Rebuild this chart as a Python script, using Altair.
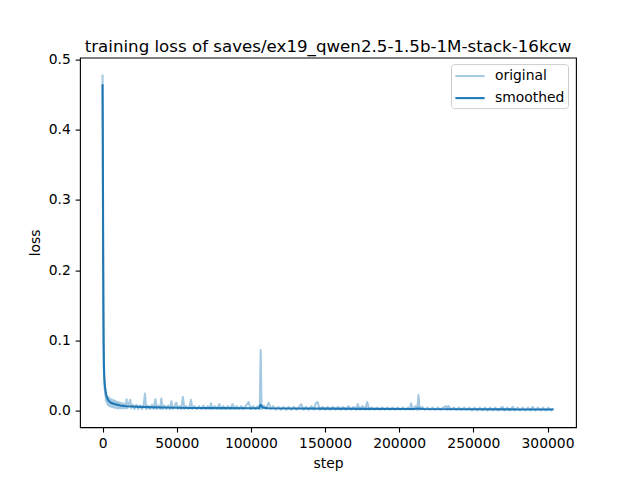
import altair as alt
import pandas as pd

TITLE = "training loss of saves/ex19_qwen2.5-1.5b-1M-stack-16kcw"

# raw per-step training loss (sampled), steps and values
orig_step = [
    0, 100, 250, 400, 550, 700, 850, 1000, 1200, 1400,
    1600, 1800, 2000, 2300, 2600, 2900, 3200, 3500, 3800, 4100,
    4400, 4700, 5000, 5400, 5800, 6200, 6600, 7000, 7400, 7800,
    8200, 8600, 9000, 9400, 9800, 10300, 10800, 11300, 11800, 12300,
    12800, 13300, 13800, 14300, 14800, 15300, 16200, 16700, 17300, 18700,
    19300, 20200, 21500, 22800, 24000, 25300, 26500, 27700, 28600, 29500,
    30800, 32000, 33300, 34500, 35600, 36600, 37800, 39000, 39600, 40500,
    41700, 43000, 44200, 45400, 46400, 47300, 48500, 49700, 50700, 51900,
    53000, 54200, 55200, 56500, 57700, 58800, 59600, 60600, 62000, 63500,
    65000, 66500, 68000, 69500, 71000, 72300, 73100, 74200, 75800, 77200,
    78700, 80000, 81500, 83000, 84500, 86000, 87700, 89000, 90500, 92000,
    93500, 95000, 96500, 98500, 99800, 101500, 103000, 104500, 106000, 106600,
    107200, 108700, 110200, 112000, 113500, 115000, 116800, 118500, 120200, 122000,
    123800, 125500, 127300, 129000, 130800, 132500, 133900, 135500, 137200, 139000,
    140800, 142500, 143500, 145000, 146500, 148300, 150000, 151800, 153500, 155300,
    157000, 158800, 160500, 162300, 164000, 165800, 167500, 169300, 171000, 172000,
    173500, 175200, 177000, 178400, 179800, 181500, 183300, 185000, 186800, 188500,
    190300, 192000, 193800, 195500, 197300, 199000, 200800, 202500, 204300, 206000,
    207200, 208000, 209300, 211000, 212200, 213000, 213800, 215500, 217300, 219000,
    220800, 222500, 224300, 226000, 227800, 229500, 231700, 232500, 233300, 235000,
    236800, 238500, 240300, 242000, 243800, 245500, 247300, 249000, 250800, 252500,
    254300, 256000, 257800, 259500, 261300, 263000, 264800, 266500, 268300, 269700,
    271000, 272800, 274500, 276500, 278000, 279800, 281500, 283300, 285000, 286800,
    288500, 290000, 291800, 293500, 295300, 297000, 298800, 300500, 302300, 304000,
]
orig_loss = [
    0.479, 0.420, 0.300, 0.190, 0.120, 0.085, 0.062, 0.050, 0.040, 0.030,
    0.034, 0.022, 0.026, 0.014, 0.022, 0.011, 0.020, 0.008, 0.019, 0.007,
    0.018, 0.006, 0.017, 0.006, 0.016, 0.005, 0.015, 0.005, 0.014, 0.004,
    0.014, 0.004, 0.013, 0.004, 0.012, 0.003, 0.012, 0.003, 0.011, 0.003,
    0.010, 0.003, 0.010, 0.003, 0.009, 0.003, 0.016, 0.003, 0.008, 0.015,
    0.003, 0.008, 0.002, 0.008, 0.002, 0.007, 0.002, 0.008, 0.024, 0.002,
    0.007, 0.002, 0.008, 0.002, 0.016, 0.002, 0.007, 0.002, 0.017, 0.002,
    0.007, 0.002, 0.007, 0.002, 0.013, 0.002, 0.006, 0.011, 0.002, 0.006,
    0.002, 0.019, 0.002, 0.006, 0.002, 0.006, 0.015, 0.002, 0.006, 0.002,
    0.006, 0.002, 0.007, 0.002, 0.006, 0.002, 0.010, 0.002, 0.006, 0.002,
    0.009, 0.002, 0.006, 0.002, 0.006, 0.002, 0.009, 0.002, 0.006, 0.002,
    0.006, 0.002, 0.006, 0.012, 0.002, 0.006, 0.002, 0.006, 0.002, 0.086,
    0.002, 0.007, 0.002, 0.011, 0.002, 0.006, 0.001, 0.005, 0.001, 0.005,
    0.001, 0.005, 0.001, 0.005, 0.001, 0.005, 0.009, 0.001, 0.005, 0.001,
    0.006, 0.001, 0.009, 0.012, 0.001, 0.005, 0.001, 0.005, 0.001, 0.005,
    0.001, 0.005, 0.001, 0.005, 0.001, 0.006, 0.001, 0.005, 0.001, 0.009,
    0.001, 0.006, 0.001, 0.012, 0.001, 0.004, 0.001, 0.004, 0.001, 0.004,
    0.001, 0.004, 0.001, 0.004, 0.001, 0.004, 0.001, 0.004, 0.001, 0.004,
    0.001, 0.010, 0.001, 0.006, 0.001, 0.022, 0.001, 0.005, 0.001, 0.004,
    0.001, 0.004, 0.001, 0.004, 0.001, 0.004, 0.006, 0.001, 0.006, 0.001,
    0.004, 0.001, 0.004, 0.001, 0.004, 0.001, 0.004, 0.000, 0.004, 0.000,
    0.004, 0.000, 0.004, 0.000, 0.004, 0.000, 0.004, 0.000, 0.003, 0.005,
    0.000, 0.004, 0.000, 0.005, 0.000, 0.004, 0.000, 0.004, 0.000, 0.004,
    0.000, 0.005, 0.000, 0.004, 0.000, 0.004, 0.000, 0.004, 0.000, 0.003,
]

# exponentially smoothed loss
smooth_step = [
    0, 150, 300, 450, 600, 750, 900, 1100, 1300, 1600,
    2000, 2500, 3000, 4000, 5000, 6000, 8000, 10000, 12000, 16000,
    20000, 25000, 30000, 40000, 50000, 60000, 80000, 100000, 105500, 106600,
    108000, 112000, 130000, 150000, 180000, 210000, 213000, 216000, 250000, 280000,
    304000,
]
smooth_loss = [
    0.465, 0.400, 0.310, 0.210, 0.140, 0.095, 0.068, 0.052, 0.043, 0.035,
    0.028, 0.022, 0.018, 0.014, 0.012, 0.0105, 0.009, 0.008, 0.007, 0.006,
    0.0055, 0.005, 0.0047, 0.0042, 0.0038, 0.0035, 0.0032, 0.003, 0.003, 0.008,
    0.004, 0.003, 0.0027, 0.0025, 0.0022, 0.002, 0.0028, 0.002, 0.0016, 0.0014,
    0.0012,
]

series_names = ["original", "smoothed"]
series_colors = ["#a5c9e1", "#1f77b4"]
x_ticks = [0, 50000, 100000, 150000, 200000, 250000, 300000]
y_ticks = [0.0, 0.1, 0.2, 0.3, 0.4, 0.5]

orig_df = pd.DataFrame({"step": orig_step, "loss": orig_loss, "series": "original"})
smooth_df = pd.DataFrame({"step": smooth_step, "loss": smooth_loss, "series": "smoothed"})

FONT = "DejaVu Sans"
PT = 100 / 72  # points to pixels at 100 dpi

x_enc = alt.X(
    "step:Q",
    title="step",
    scale=alt.Scale(domain=[-15200, 319200], nice=False, zero=False),
    axis=alt.Axis(values=x_ticks, format="d"),
)
y_enc = alt.Y(
    "loss:Q",
    title="loss",
    scale=alt.Scale(domain=[-0.02395, 0.50295], nice=False, zero=False),
    axis=alt.Axis(values=y_ticks, format=".1f"),
)
color_enc = alt.Color(
    "series:N",
    title=None,
    scale=alt.Scale(domain=series_names, range=series_colors),
    legend=alt.Legend(
        orient="none",
        legendX=371,
        legendY=6.5,
        symbolType="M-1.95,0L1.95,0",
        symbolSize=225,
        symbolStrokeWidth=1.5 * PT,
        symbolOffset=7,
        labelOffset=16,
        labelFont=FONT,
        labelFontSize=10 * PT,
        labelColor="black",
        rowPadding=6,
        padding=3,
        strokeColor="#cccccc",
        cornerRadius=3,
        fillColor="rgba(255,255,255,0.8)",
        labelExpr="datum.label + '    '",
    ),
)

orig_line = alt.Chart(orig_df).mark_line(strokeWidth=1.5 * PT, strokeJoin="round").encode(
    x=x_enc, y=y_enc, color=color_enc, order="step:Q"
)
smooth_line = alt.Chart(smooth_df).mark_line(strokeWidth=1.5 * PT, strokeJoin="round").encode(
    x=x_enc, y=y_enc, color=color_enc, order="step:Q"
)

chart = (
    alt.layer(orig_line, smooth_line)
    .properties(
        width=496,
        height=369.6,
        padding={"left": 80, "top": 57.6, "right": 64, "bottom": 52.8},
        autosize=alt.AutoSizeParams(type="none"),
        title=alt.TitleParams(
            TITLE,
            font=FONT,
            fontSize=12 * PT,
            fontWeight="normal",
            color="black",
            anchor="middle",
            offset=5,
            dy=24,
            baseline="bottom",
        ),
        background="white",
    )
    .configure_view(stroke="black", strokeWidth=0.8 * PT)
    .configure_axis(
        grid=False,
        domain=False,
        ticks=True,
        tickSize=3.5 * PT,
        tickWidth=0.8 * PT,
        tickColor="black",
        labelFont=FONT,
        labelFontSize=10 * PT,
        labelColor="black",
        labelPadding=3.5 * PT,
        titleFont=FONT,
        titleFontSize=10 * PT,
        titleFontWeight="normal",
        titleColor="black",
        titlePadding=4 * PT,
    )
)

chart.save("out.html", embed_options={"renderer": "svg", "actions": False})
